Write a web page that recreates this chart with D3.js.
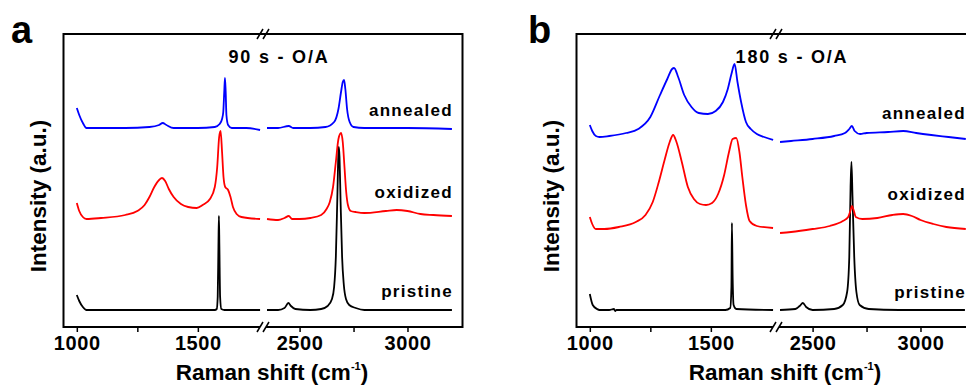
<!DOCTYPE html>
<html>
<head>
<meta charset="utf-8">
<script src="https://cdn.jsdelivr.net/npm/d3@7"></script>
<style>
  body { margin: 0; background: #fff; }
  svg text { font-family: Arial, "Liberation Sans", sans-serif; }
</style>
</head>
<body>
<div id="chart"></div>
<script>
// panel text
const panelLetters = ['a', 'b'];
const panelTitles = ['90 s - O/A', '180 s - O/A'];
const seriesNames = ['pristine', 'oxidized', 'annealed'];

// broken x axis: two segments of wavenumber (cm-1)
const lowDomain = [945, 1765];
const highDomain = [2335, 3255];
const lowTicks = [1000, 1250, 1500];
const highTicks = [2500, 2750, 3000];
const labelledTicks = [1000, 1500, 2500, 3000];
const intensityDomain = [0, 293];

// panel a, spectra, [wavenumber, intensity]
const aPristineLow = [[1000,32],[1010,26],[1025,20],[1040,17],[1200,17],[1400,17],[1570,17],[1578,18],[1582,30],[1585,80],[1587,111],[1589,80],[1592,30],[1597,18],[1610,17],[1757,17]];
const aPristineHigh = [[2349,17],[2400,17],[2430,19],[2448,24],[2460,21],[2480,18],[2550,17],[2600,18],[2630,21],[2650,28],[2660,40],[2668,70],[2675,130],[2680,175],[2682,180],[2685,170],[2690,125],[2697,70],[2705,42],[2715,28],[2730,22],[2760,19],[2800,17],[3000,17],[3206,17]];
const aOxidizedLow = [[1000,124],[1010,116],[1025,110],[1040,108],[1100,109],[1200,112],[1250,116],[1280,122],[1300,130],[1320,140],[1340,147],[1352,149],[1365,146],[1380,138],[1400,130],[1430,123],[1460,120],[1495,119],[1520,122],[1550,128],[1570,140],[1580,160],[1588,190],[1594,196],[1600,175],[1606,150],[1613,140],[1625,137],[1635,130],[1645,120],[1660,113],[1680,110],[1757,108]];
const aOxidizedHigh = [[2349,108],[2400,107],[2430,109],[2450,111],[2465,108],[2500,108],[2550,109],[2600,112],[2625,118],[2640,125],[2655,140],[2668,165],[2680,188],[2692,194],[2700,185],[2708,160],[2716,135],[2724,122],[2737,116],[2760,115],[2800,114],[2900,116],[2950,117],[3000,116],[3060,113],[3120,112],[3206,111]];
const aAnnealedLow = [[1000,219],[1010,212],[1025,204],[1040,199],[1100,199],[1200,199],[1300,200],[1340,202],[1355,204],[1370,202],[1400,199],[1500,199],[1570,200],[1590,203],[1600,208],[1605,215],[1609,235],[1612,249],[1615,235],[1618,212],[1625,202],[1640,199],[1700,199],[1757,197]];
const aAnnealedHigh = [[2349,199],[2400,199],[2450,201],[2470,199],[2550,199],[2620,200],[2660,205],[2680,218],[2692,235],[2700,245],[2706,247],[2712,238],[2720,218],[2732,205],[2750,200],[2800,199],[3000,199],[3206,198]];

// panel b
const bPristineLow = [[1000,33],[1012,22],[1030,18],[1040,17],[1080,17],[1100,18],[1105,16],[1110,17],[1300,17],[1560,17],[1580,19],[1585,40],[1587,104],[1590,50],[1594,22],[1605,18],[1757,17]];
const bPristineHigh = [[2349,17],[2420,18],[2440,21],[2455,24],[2470,20],[2500,17],[2600,18],[2640,22],[2660,35],[2670,70],[2676,140],[2680,165],[2685,130],[2693,70],[2703,35],[2718,22],[2760,18],[2900,17],[3206,17]];
const bOxidizedLow = [[1000,110],[1010,103],[1025,98],[1060,98],[1120,100],[1190,105],[1230,112],[1260,125],[1285,145],[1310,168],[1330,185],[1344,192],[1358,185],[1380,165],[1405,140],[1430,128],[1455,123],[1480,122],[1505,124],[1530,133],[1555,152],[1575,175],[1590,188],[1605,189],[1618,175],[1630,150],[1645,122],[1660,106],[1690,101],[1757,99]];
const bOxidizedHigh = [[2349,94],[2400,95],[2500,98],[2580,101],[2640,106],[2665,110],[2675,116],[2682,121],[2690,117],[2700,110],[2730,108],[2800,109],[2870,112],[2920,113],[2960,111],[3000,107],[3060,103],[3120,100],[3210,98]];
const bAnnealedLow = [[1000,202],[1010,196],[1025,191],[1040,190],[1080,191],[1150,194],[1200,198],[1250,210],[1290,232],[1320,248],[1340,258],[1348,259],[1365,250],[1390,232],[1420,220],[1450,214],[1488,213],[1520,216],[1550,225],[1570,238],[1585,253],[1598,263],[1610,245],[1625,225],[1645,205],[1665,198],[1690,193],[1720,190],[1757,187]];
const bAnnealedHigh = [[2349,185],[2400,186],[2500,188],[2600,191],[2650,194],[2670,198],[2682,201],[2695,196],[2720,193],[2750,194],[2850,195],[2920,196],[2980,194],[3050,192],[3130,190],[3210,188]];

const panels = [
  { series: [[aPristineLow, aPristineHigh], [aOxidizedLow, aOxidizedHigh], [aAnnealedLow, aAnnealedHigh]] },
  { series: [[bPristineLow, bPristineHigh], [bOxidizedLow, bOxidizedHigh], [bAnnealedLow, bAnnealedHigh]] }
];

const colors = ['#000000', '#ff0000', '#0000ff'];
const labelY = [[297, 198, 116], [298, 200, 119]];

let width = 966, height = 385;
let panelShift = 513;
let plotLeft = 63.5, plotRight = 462.5, plotTop = 34, plotBottom = 327;
let breakAt = 263;

let svg = d3.select('#chart').append('svg')
  .attr('width', width)
  .attr('height', height);

let xLow = d3.scaleLinear().domain(lowDomain).range([plotLeft, breakAt - 1]);
let xHigh = d3.scaleLinear().domain(highDomain).range([breakAt + 1, plotRight]);
let y = d3.scaleLinear().domain(intensityDomain).range([plotBottom, plotTop]);

panels.forEach((panel, p) => {
  let g = svg.append('g')
    .attr('transform', `translate(${p * panelShift},0)`);

  // spectra
  panel.series.forEach((pair, s) => {
    [xLow, xHigh].forEach((x, k) => {
      let line = d3.line()
        .x(d => x(d[0]))
        .y(d => y(d[1]))
        .curve(d3.curveMonotoneX);
      g.append('path')
        .datum(pair[k])
        .attr('fill', 'none')
        .attr('stroke', colors[s])
        .attr('stroke-width', 1.8)
        .attr('stroke-linejoin', 'round')
        .attr('d', line);
    });
  });

  // frame
  let frame = g.append('g')
    .attr('stroke', '#000')
    .attr('stroke-width', 2)
    .attr('fill', 'none');
  frame.append('line').attr('x1', plotLeft).attr('x2', plotLeft).attr('y1', plotTop - 1).attr('y2', plotBottom + 1);
  frame.append('line').attr('x1', plotRight).attr('x2', plotRight).attr('y1', plotTop - 1).attr('y2', plotBottom + 1);
  frame.append('line').attr('x1', plotLeft).attr('x2', plotRight).attr('y1', plotTop).attr('y2', plotTop);
  frame.append('line').attr('x1', plotLeft).attr('x2', breakAt - 3).attr('y1', plotBottom).attr('y2', plotBottom);
  frame.append('line').attr('x1', breakAt + 3).attr('x2', plotRight).attr('y1', plotBottom).attr('y2', plotBottom);

  [plotTop, plotBottom].forEach(yy => {
    [-3, 3].forEach(dx => {
      frame.append('line')
        .attr('stroke-width', 1.5)
        .attr('x1', breakAt + dx - 3).attr('y1', yy + 5)
        .attr('x2', breakAt + dx + 3).attr('y2', yy - 5);
    });
  });

  // axes
  [[xLow, lowTicks], [xHigh, highTicks]].forEach(([x, ticks]) => {
    let axis = d3.axisBottom(x)
      .tickValues(ticks)
      .tickSize(5)
      .tickPadding(4)
      .tickFormat(d => labelledTicks.includes(d) ? d : '');
    let ax = g.append('g')
      .attr('transform', `translate(0,${plotBottom})`)
      .call(axis);
    ax.select('.domain').remove();
    ax.selectAll('.tick line').attr('stroke-width', 1.5);
    ax.selectAll('.tick text')
      .attr('font-size', 20)
      .attr('font-weight', 'bold')
      .attr('letter-spacing', 0.6)
      .attr('fill', '#000');
  });

  // text
  g.append('text')
    .attr('x', p === 0 ? 11 : 15)
    .attr('y', 43)
    .attr('font-size', 38)
    .attr('font-weight', 'bold')
    .text(panelLetters[p]);

  g.append('text')
    .attr('x', 279)
    .attr('y', 63)
    .attr('text-anchor', 'middle')
    .attr('font-size', 18)
    .attr('font-weight', 'bold')
    .attr('letter-spacing', 1.8)
    .text(panelTitles[p]);

  g.append('text')
    .attr('transform', 'translate(46,196) rotate(-90)')
    .attr('text-anchor', 'middle')
    .attr('font-size', 22.5)
    .attr('font-weight', 'bold')
    .text('Intensity (a.u.)');

  let xt = g.append('text')
    .attr('x', 272)
    .attr('y', 380)
    .attr('text-anchor', 'middle')
    .attr('font-size', 22.5)
    .attr('font-weight', 'bold');
  xt.append('tspan').text('Raman shift (cm');
  xt.append('tspan').attr('font-size', 11).attr('dy', -10).text('-1');
  xt.append('tspan').attr('dy', 10).text(')');

  seriesNames.forEach((name, s) => {
    g.append('text')
      .attr('x', 453)
      .attr('y', labelY[p][s])
      .attr('text-anchor', 'end')
      .attr('font-size', 17)
      .attr('font-weight', 'bold')
      .attr('letter-spacing', 1.3)
      .text(name);
  });
});
</script>
</body>
</html>
